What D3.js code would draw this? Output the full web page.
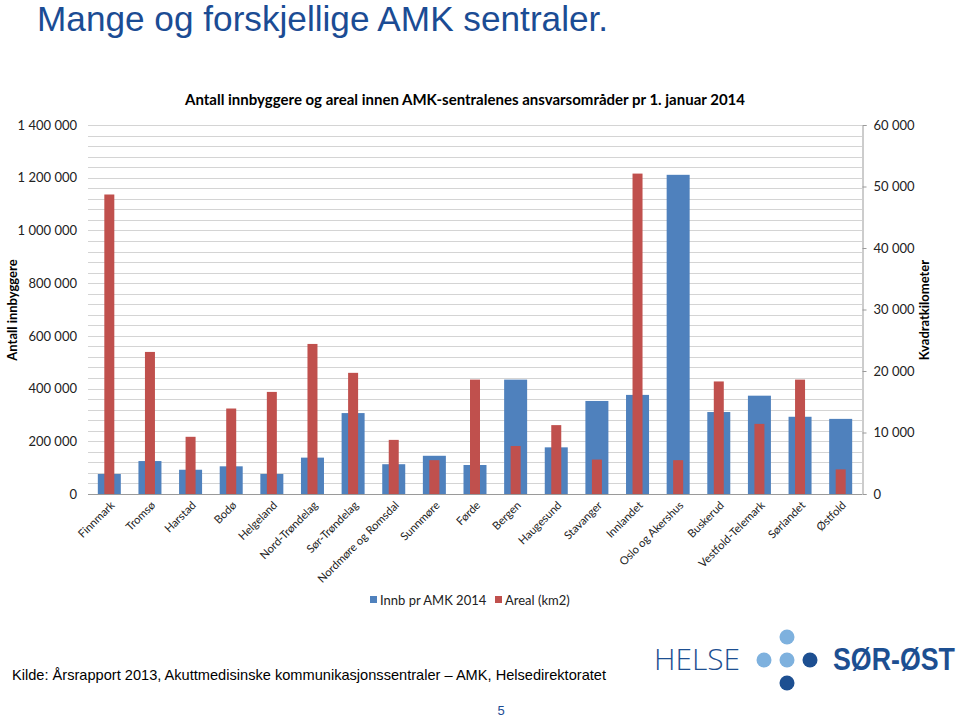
<!DOCTYPE html>
<html><head><meta charset="utf-8">
<script src="https://cdn.jsdelivr.net/npm/d3@7"></script>
<style>body{margin:0;background:#fff;}svg{display:block;}</style>
</head><body>
<svg id="c" width="960" height="719"></svg>
<script>
const categories = ["Finnmark","Tromsø","Harstad","Bodø","Helgeland","Nord-Trøndelag","Sør-Trøndelag","Nordmøre og Romsdal","Sunnmøre","Førde","Bergen","Haugesund","Stavanger","Innlandet","Oslo og Akershus","Buskerud","Vestfold-Telemark","Sørlandet","Østfold"];
const innbyggere = [76000,125000,92000,105000,76000,138000,307000,113000,145000,110000,434000,177000,353000,376000,1211000,311000,373000,293000,285000];
const areal = [48700,23100,9300,13900,16600,24400,19700,8800,5500,18600,7800,11200,5600,52100,5500,18300,11400,18600,4000];
const leftTicks = [0,200000,400000,600000,800000,1000000,1200000,1400000];
const rightTicks = [0,10000,20000,30000,40000,50000,60000];
const seriesNames = ["Innb pr AMK 2014","Areal (km2)"];
const colors = ["#4F81BD","#C0504D"];

const svg = d3.select("#c");
const x0 = 89, x1 = 861, yB = 494, yT = 125;
const x = d3.scaleBand().domain(categories).range([x0, x1]).padding(0);
const yL = d3.scaleLinear().domain([0,1400000]).range([yB, yT]);
const yR = d3.scaleLinear().domain([0,60000]).range([yB, yT]);
const fmt = v => d3.format(",")(v).replace(/,/g, " ");
const F = "Lato, 'Open Sans', sans-serif";

// title
svg.append("text").attr("x",37).attr("y",31).attr("font-family","Liberation Sans, Arial, sans-serif")
  .attr("font-size",35.2).attr("fill","#1B4C94").text("Mange og forskjellige AMK sentraler.");

// chart title
svg.append("text").attr("x",465).attr("y",105).attr("text-anchor","middle")
  .attr("font-family",F).attr("font-weight","bold").attr("font-size",15)
  .attr("fill","#000").text("Antall innbyggere og areal innen AMK-sentralenes ansvarsområder pr 1. januar 2014");

// gridlines every 40 000
const grid = d3.range(40000, 1400001, 40000);
svg.append("g").selectAll("line").data(grid).join("line")
  .attr("x1",x0-1).attr("x2",x1+1).attr("y1",d=>Math.round(yL(d))+0.5).attr("y2",d=>Math.round(yL(d))+0.5)
  .attr("stroke","#D4D4D4").attr("stroke-width",1);

// left axis
const gl = svg.append("g").attr("transform",`translate(${x0-1},0)`)
  .call(d3.axisLeft(yL).tickValues(leftTicks).tickFormat(fmt).tickSize(0).tickPadding(11));
gl.select(".domain").remove();
gl.selectAll("text").attr("font-family",F).attr("font-size",13).attr("fill","#222");

// right axis
const gr = svg.append("g").attr("transform",`translate(${x1+1.5},0)`)
  .call(d3.axisRight(yR).tickValues(rightTicks).tickFormat(fmt).tickSize(4).tickPadding(7));
gr.select(".domain").attr("stroke","#9A9A9A");
gr.selectAll(".tick line").attr("stroke","#9A9A9A");
gr.selectAll("text").attr("font-family",F).attr("font-size",13).attr("fill","#222");

// bars
const bw = 23, rw = 10;
svg.append("g").selectAll("rect").data(categories).join("rect")
  .attr("x",(d)=>x(d)+x.bandwidth()/2-bw/2).attr("width",bw)
  .attr("y",(d,i)=>yL(innbyggere[i])).attr("height",(d,i)=>yB-yL(innbyggere[i]))
  .attr("fill",colors[0]);
svg.append("g").selectAll("rect").data(categories).join("rect")
  .attr("x",(d)=>x(d)+x.bandwidth()/2-rw/2).attr("width",rw)
  .attr("y",(d,i)=>yR(areal[i])).attr("height",(d,i)=>yB-yR(areal[i]))
  .attr("fill",colors[1]);

// bottom axis line
svg.append("line").attr("x1",x0-1).attr("x2",x1+1).attr("y1",yB+0.5).attr("y2",yB+0.5).attr("stroke","#9A9A9A");

// x labels
svg.append("g").selectAll("text").data(categories).join("text")
  .attr("transform",d=>`translate(${x(d)+x.bandwidth()/2+6},${yB+12}) rotate(-45)`)
  .attr("text-anchor","end").attr("font-family",F).attr("font-size",11.2)
  .attr("fill","#222").text(d=>d);

// axis titles
svg.append("text").attr("transform","translate(17,310) rotate(-90)").attr("text-anchor","middle")
  .attr("font-family",F).attr("font-weight","bold").attr("font-size",13).text("Antall innbyggere");
svg.append("text").attr("transform","translate(929,310) rotate(-90)").attr("text-anchor","middle")
  .attr("font-family",F).attr("font-weight","bold").attr("font-size",13).text("Kvadratkilometer");

// legend
const lg = svg.append("g");
const lx = [370, 495];
seriesNames.forEach((s,i)=>{
  lg.append("rect").attr("x",lx[i]).attr("y",596).attr("width",7).attr("height",7).attr("fill",colors[i]);
  lg.append("text").attr("x",lx[i]+10).attr("y",604.5).attr("font-family",F)
    .attr("font-size",13).attr("fill","#222").text(s);
});

// footer
svg.append("text").attr("x",12).attr("y",680).attr("font-family","Liberation Sans, Arial, sans-serif")
  .attr("font-size",15).attr("textLength",594).attr("lengthAdjust","spacingAndGlyphs").attr("fill","#000")
  .text("Kilde: Årsrapport 2013, Akuttmedisinske kommunikasjonssentraler – AMK, Helsedirektoratet");
svg.append("text").attr("x",501).attr("y",715).attr("text-anchor","middle").attr("font-family","Liberation Sans, Arial, sans-serif")
  .attr("font-size",13).attr("fill","#1B4C94").text("5");

// logo
svg.append("text").attr("x",654).attr("y",670).attr("font-family","'Open Sans', Lato, sans-serif").attr("font-weight",300)
  .attr("font-size",29).attr("fill","#1D4F91").attr("textLength",86).attr("lengthAdjust","spacingAndGlyphs").text("HELSE");
const dots = [[764,660,"#7EB1DE"],[787,660,"#7EB1DE"],[787,637,"#7EB1DE"],[810,660,"#1D4F91"],[787,683,"#1D4F91"]];
svg.append("g").selectAll("circle").data(dots).join("circle")
  .attr("cx",d=>d[0]).attr("cy",d=>d[1]).attr("r",7.5).attr("fill",d=>d[2]);
svg.append("text").attr("transform","translate(833,670) scale(1.03,1.18)").attr("font-family","'Liberation Sans', Arial, sans-serif").attr("font-weight","bold")
  .attr("font-size",26).attr("fill","#1D4F91").text("SØR-ØST");
</script>
</body></html>
